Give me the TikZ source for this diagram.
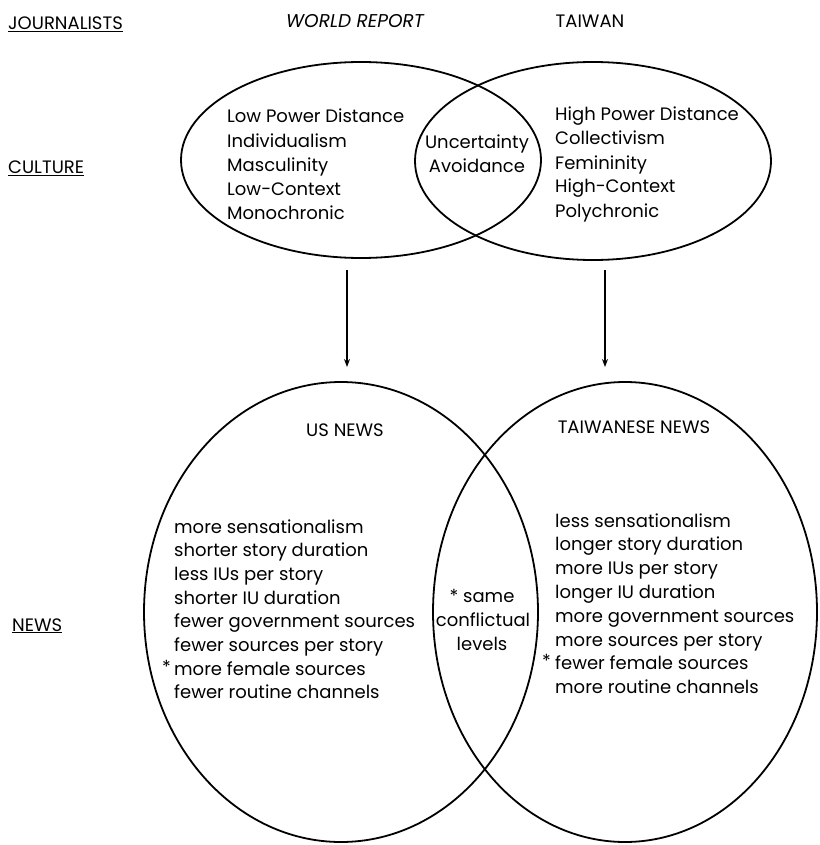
\documentclass[tikz,border=0pt]{standalone}
\usepackage{fontspec}
\setmainfont{Poppins}
\usetikzlibrary{shapes.geometric,arrows.meta}
\tikzset{
  venn/.style={ellipse, draw, line width=1.8pt, inner sep=0pt},
  txt/.style={anchor=base west, inner sep=0pt, font=\fontsize{18}{20}\selectfont},
  ctxt/.style={anchor=base, inner sep=0pt, font=\fontsize{18}{20}\selectfont},
  hdr/.style={anchor=base west, inner sep=0pt, font=\fontsize{18}{20}\selectfont},
  flow/.style={line width=1.2pt, -{Stealth[length=8pt,width=6pt]}}
}
\begin{document}
\begin{tikzpicture}[x=1pt,y=-1pt]
\useasboundingbox (0,0) rectangle (819,845);
% row labels
\node[hdr] (jour) at (8,30) {\underline{JOURNALISTS}};
\node[hdr] (cult) at (8,174) {\underline{CULTURE}};
\node[hdr] (newsl) at (12,631) {\underline{NEWS}};
\node[ctxt, font=\fontsize{18.5}{20}\selectfont\itshape] (wr) at (355,28) {WORLD REPORT};
\node[ctxt] (tw) at (590,28) {TAIWAN};
% ellipses
\node[venn, minimum width=360pt, minimum height=196pt] (tl) at (361,160) {};
\node[venn, minimum width=356pt, minimum height=198pt] (tr) at (593,161) {};
\node[venn, minimum width=394pt, minimum height=460pt] (bl) at (341,612) {};
\node[venn, minimum width=384pt, minimum height=460pt] (br) at (625,612) {};
% arrows
\coordinate (a1s) at (347,270); \coordinate (a1e) at (347,367);
\coordinate (a2s) at (605,270); \coordinate (a2e) at (605,367);
\draw[flow] (a1s) -- (a1e);
\draw[flow] (a2s) -- (a2e);
% top left
\foreach \t [count=\i from 0] in {Low Power Distance,Individualism,Masculinity,Low-Context,Monochronic}
  \node[txt] (tl\i) at (227,123+24.2*\i) {\t};
% top right
\foreach \t [count=\i from 0] in {High Power Distance,Collectivism,Femininity,High-Context,Polychronic}
  \node[txt] (tr\i) at (555,121+24*\i) {\t};
\node[ctxt] (unc1) at (477,149) {Uncertainty};
\node[ctxt] (unc2) at (477,172) {Avoidance};
% bottom headings
\node[ctxt] (usn) at (345,436) {US NEWS};
\node[ctxt] (twn) at (634,433) {TAIWANESE NEWS};
% bottom left
\foreach \t [count=\i from 0] in {more sensationalism,shorter story duration,less IUs per story,shorter IU duration,fewer government sources,fewer sources per story,more female sources,fewer routine channels}
  \node[txt] (bl\i) at (174,533+23.7*\i) {\t};
\node[txt, anchor=base east] (st1) at (171,673) {*};
% bottom right
\foreach \t [count=\i from 0] in {less sensationalism,longer story duration,more IUs per story,longer IU duration,more government sources,more sources per story,fewer female sources,more routine channels}
  \node[txt] (br\i) at (555,527+23.8*\i) {\t};
\node[txt, anchor=base east] (st2) at (551,667) {*};
% middle
\node[ctxt] (m1) at (482,602) {* same};
\node[ctxt] (m2) at (483,626) {conflictual};
\node[ctxt] (m3) at (482,650) {levels};
\end{tikzpicture}
\end{document}
